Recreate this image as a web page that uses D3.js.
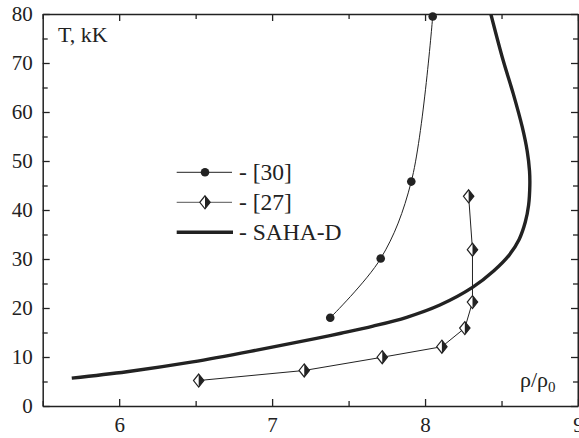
<!DOCTYPE html>
<html><head><meta charset="utf-8">
<script src="https://cdn.jsdelivr.net/npm/d3@7/dist/d3.min.js"></script>
<style>body{margin:0;background:#fff;} svg{display:block;}</style>
</head><body><svg id="c" width="579" height="438"></svg>
<script>
// Data
const ref30X = [7.38, 7.71, 7.91, 8.05];
const ref30Y = [18.0, 30.1, 45.8, 79.5];
const ref27X = [6.52, 7.21, 7.72, 8.11, 8.26, 8.31, 8.31, 8.285];
const ref27Y = [5.2, 7.25, 9.95, 12.1, 15.9, 21.2, 31.9, 42.8];
const sahaX = [5.69, 6.05, 6.48, 6.9, 7.29, 7.45, 7.66, 7.88, 8.097, 8.31, 8.45, 8.55, 8.615, 8.655, 8.677, 8.685, 8.683, 8.668, 8.635, 8.576, 8.51, 8.43];
const sahaY = [5.7, 7.0, 9.0, 11.4, 13.8, 14.85, 16.3, 18.1, 20.6, 24.2, 27.6, 30.8, 34.0, 37.5, 41, 45, 48, 52, 57, 63.8, 70.6, 80];
const xTicks = [6, 7, 8, 9];
const xMinor = [5.5, 6.5, 7.5, 8.5];
const yTicks = [0, 10, 20, 30, 40, 50, 60, 70, 80];
const yMinor = [5, 15, 25, 35, 45, 55, 65, 75];
const legendLabels = ["- [30]", "- [27]", "- SAHA-D"];

const FONT = "'Liberation Serif', 'Times New Roman', Tinos, 'DejaVu Serif', serif";
const svg = d3.select("#c");
const L = 42.7, R = 578, T = 14, B = 406;
const x = d3.scaleLinear().domain([5.5, 9]).range([L, R]);
const y = d3.scaleLinear().domain([0, 80]).range([B, T]);
const ink = "#222";

function axis(gen, tr, vals, size, labels) {
  const g = svg.append("g").attr("transform", tr)
    .call(gen.tickValues(vals).tickSizeInner(size).tickSizeOuter(0).tickPadding(6)
      .tickFormat(labels ? d3.format("d") : () => ""));
  g.attr("font-family", null);
  g.select(".domain").attr("stroke", ink).attr("stroke-width", 1.5);
  g.selectAll(".tick line").attr("stroke", ink).attr("stroke-width", 1.3);
  g.selectAll("text").attr("font-size", 21).style("font-family", FONT).attr("fill", ink);
  return g;
}
// bottom
const gb = axis(d3.axisBottom(x), `translate(0,${B})`, xTicks, -7, true);
gb.selectAll("text").attr("dy", "0.95em");
axis(d3.axisBottom(x), `translate(0,${B})`, xMinor, -5, false).select(".domain").remove();
// top
axis(d3.axisTop(x), `translate(0,${T})`, xTicks, -7, false);
axis(d3.axisTop(x), `translate(0,${T})`, xMinor, -5, false).select(".domain").remove();
// left
const gl = axis(d3.axisLeft(y), `translate(${L},0)`, yTicks, -7, true);
gl.selectAll("text").attr("x", -10);
axis(d3.axisLeft(y), `translate(${L},0)`, yMinor, -5, false).select(".domain").remove();
// right
const gr = axis(d3.axisRight(y), `translate(${R},0)`, yTicks, -7, false);
gr.select(".domain").attr("stroke-width", 2);
axis(d3.axisRight(y), `translate(${R},0)`, yMinor, -5, false).select(".domain").remove();

// clip
svg.append("clipPath").attr("id", "clip").append("rect").attr("x", L).attr("y", T).attr("width", R - L).attr("height", B - T);

// SAHA-D curve
const saha = sahaX.map((d, i) => [d, sahaY[i]]);
svg.append("path").attr("clip-path", "url(#clip)")
  .attr("d", d3.line().x(d => x(d[0])).y(d => y(d[1])).curve(d3.curveCatmullRom.alpha(0.5))(saha))
  .attr("fill", "none").attr("stroke", ink).attr("stroke-width", 3.4);

// [30]
const r30 = ref30X.map((d, i) => [d, ref30Y[i]]);
svg.append("path")
  .attr("d", d3.line().x(d => x(d[0])).y(d => y(d[1])).curve(d3.curveCatmullRom.alpha(0.5))(r30))
  .attr("fill", "none").attr("stroke", ink).attr("stroke-width", 1);
svg.selectAll("circle.r30").data(r30).join("circle").attr("class", "r30")
  .attr("cx", d => x(d[0])).attr("cy", d => y(d[1])).attr("r", 4.3).attr("fill", ink);

// [27]
const r27 = ref27X.map((d, i) => [d, ref27Y[i]]);
svg.append("path")
  .attr("d", d3.line().x(d => x(d[0])).y(d => y(d[1]))(r27))
  .attr("fill", "none").attr("stroke", ink).attr("stroke-width", 1);
function diamond(cx, cy) {
  const w = 5.2, h = 6.5;
  const g = svg.append("g").attr("transform", `translate(${cx},${cy})`);
  g.append("path").attr("d", `M0,${-h}L${w},0L0,${h}L${-w},0Z`).attr("fill", "#fff").attr("stroke", ink).attr("stroke-width", 1.2);
  g.append("path").attr("d", `M0,${-h}L${w},0L0,${h}Z`).attr("fill", ink);
}
r27.forEach(d => diamond(x(d[0]), y(d[1])));

// legend
const lx1 = 176.7, lx2 = 232, ltx = 239;
const rows = [172.3, 202.3, 232.3];
svg.append("line").attr("x1", lx1).attr("x2", lx2).attr("y1", rows[0]).attr("y2", rows[0]).attr("stroke", ink).attr("stroke-width", 1);
svg.append("circle").attr("cx", 205).attr("cy", rows[0]).attr("r", 4.3).attr("fill", ink);
svg.append("line").attr("x1", lx1).attr("x2", lx2).attr("y1", rows[1]).attr("y2", rows[1]).attr("stroke", "#555").attr("stroke-width", 1);
diamond(205, rows[1]);
svg.append("line").attr("x1", lx1).attr("x2", lx2 + 1).attr("y1", rows[2]).attr("y2", rows[2]).attr("stroke", ink).attr("stroke-width", 3.4);
legendLabels.forEach((t, i) => {
  svg.append("text").attr("x", ltx).attr("y", rows[i] + 8).attr("font-size", 23.5).style("font-family", FONT).attr("fill", ink).text(t);
});

// axis titles
svg.append("text").attr("x", 58).attr("y", 42).attr("font-size", 22).style("font-family", FONT).attr("fill", ink).text("T, kK");
const rt = svg.append("text").attr("x", 520).attr("y", 387).attr("font-size", 22).style("font-family", FONT).attr("fill", ink);
rt.append("tspan").text("ρ/ρ");
rt.append("tspan").attr("font-size", 15).attr("dy", 5).text("0");
</script></body></html>
